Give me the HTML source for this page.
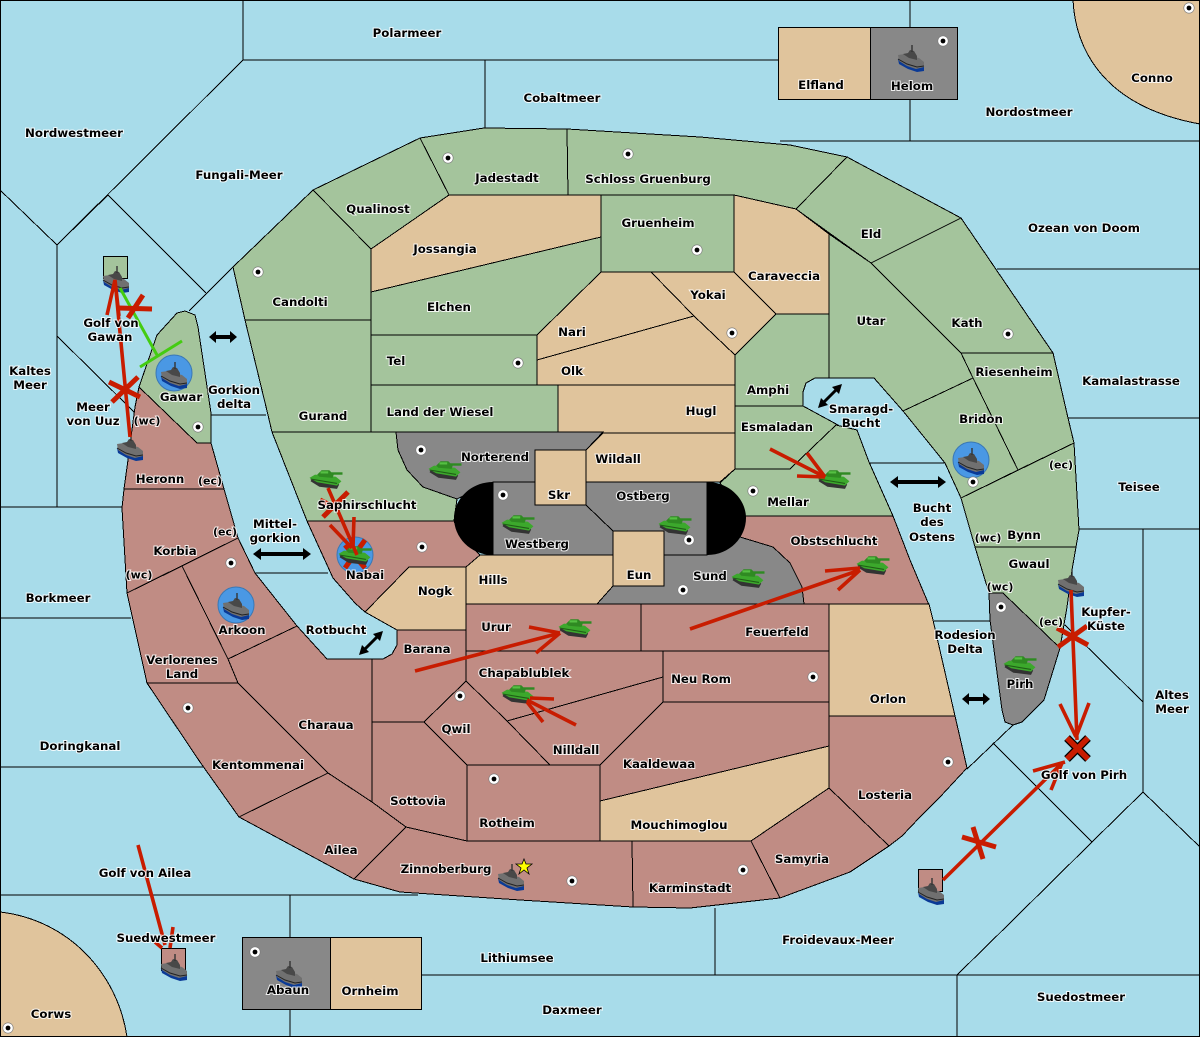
<!DOCTYPE html>
<html><head><meta charset="utf-8"><style>
html,body{margin:0;padding:0;background:#a8dcea}
svg{display:block}
.l polygon,.l path.r{stroke:#000;stroke-width:1;shape-rendering:crispEdges}
.g{fill:#a4c49c}.t{fill:#e0c49c}.p{fill:#c08c84}.k{fill:#888}
.s{stroke:#000;stroke-width:1;fill:none;shape-rendering:crispEdges}
text{font-family:"DejaVu Sans","Liberation Sans",sans-serif;font-weight:bold;font-size:11.8px;text-anchor:middle;dominant-baseline:central;fill:#000;stroke:#fff;stroke-opacity:.85;stroke-width:2px;paint-order:stroke}
text.sm{font-size:11px}
.o{stroke:#c81c00;stroke-width:3.6;fill:none}
.x{stroke:#c81c00;stroke-width:5;fill:none}
.gr{stroke:#44cc11;stroke-width:3;fill:none}
</style></head><body>
<svg xmlns="http://www.w3.org/2000/svg" width="1200" height="1037" viewBox="0 0 1200 1037">
<defs>
<g id="ship"><path d="M-13,1 L-12,6 L-3,11 L6,14 L13,13 L13,8 Z" fill="#0a3a96"/><path d="M-13,-3 L-6,-4 L0,-2 L8,0 L13,4 L13,9 L5,11 L-4,8 L-12,3 Z" fill="#707070"/><path d="M-8,-4 L-3,-5 L-1,-8 L3,-7 L6,-2 L6,2 L-2,0 Z" fill="#484848"/><path d="M-13,1 L-4,6 L6,9 L13,8" stroke="#222" fill="none"/><path d="M1,-13 V-6" stroke="#333" stroke-width="1.4"/></g>
<g id="tank" transform="scale(1.1)"><path d="M-14,2 L-6,7 L10,9 L12,5 L8,2 L-12,-2 Z" fill="#333"/><path d="M-15,-1 L-10,-4 L9,-2 L14,2 L10,6 L-8,3 Z" fill="#3ca82c"/><path d="M-8,-4 L-4,-8 L3,-8 L7,-4 L6,-1 L-6,-2 Z" fill="#2f8a22"/><path d="M-5,-7 L2,-7 L2,-5 L-5,-5 Z" fill="#55c043"/><path d="M5,-5 H15" stroke="#2f8a22" stroke-width="2.2"/><path d="M-14,0 L10,4" stroke="#1f5f16" fill="none"/></g>
<g id="dot"><circle r="5.2" fill="#fff" stroke="#777" stroke-width=".6"/><circle r="2.4" fill="#000"/></g>
</defs>
<rect width="1200" height="1037" fill="#a8dcea"/>

<g class="s">
<path d="M243,0 V60 L57,245 L0,190"/>
<path d="M243,60 H778"/>
<path d="M485,60 V128"/>
<path d="M910,0 V27 M910,99 V141"/>
<path d="M780,141 H1200"/>
<path d="M997,269 H1200"/>
<path d="M1068,418 H1200"/>
<path d="M1079,529 H1200"/>
<path d="M1143,529 V792 L1133,802"/>
<path d="M1065,625 L1143,702"/>
<path d="M1143,792 L1200,847"/>
<path d="M993,743 L1092,842 L1143,792"/>
<path d="M1092,842 L1013,920 L957,975 V1037"/>
<path d="M957,975 H1200"/>
<path d="M1013,725 L967,769"/>
<path d="M934,621 H990"/>
<path d="M870,463 H945"/>
<path d="M715,908 V975"/>
<path d="M422,975 H957"/>
<path d="M290,895 V937 M290,1009 V1037"/>
<path d="M0,895 H418"/>
<path d="M0,767 H205"/>
<path d="M0,618 H131"/>
<path d="M0,507 H122"/>
<path d="M57,245 V507"/>
<path d="M57,245 L108,195 L206,293"/>
<path d="M57,336 L135,413"/>
<path d="M189,311 L233,267"/>
<path d="M211,415 H266"/>
<path d="M255,573 H328"/>
</g>

<g class="l">
<path class="r t" d="M1073,0 C1075,40 1095,105 1200,124 V0 Z"/>
<path class="r t" d="M0,912 C70,920 118,975 127,1037 H0 Z"/>

<polygon class="g" points="233,267 313,190 371,249 371,320 245,320"/>
<polygon class="g" points="313,190 420,138 449,195 371,249"/>
<polygon class="g" points="420,138 484,128 567,129 568,195 449,195"/>
<polygon class="g" points="567,129 700,137 790,145 847,157 796,209 734,195 568,195"/>
<polygon class="g" points="847,157 961,218 871,263 796,209"/>
<polygon class="g" points="871,263 961,218 1053,353 961,353 916,308"/>
<polygon class="g" points="829,234 871,263 916,308 961,353 973,378 903,411 874,378 829,378"/>
<polygon class="g" points="961,353 1053,353 1068,418 1074,443 1018,470 973,378"/>
<polygon class="g" points="973,378 1018,470 961,498 945,463 903,411"/>
<polygon class="g" points="961,498 1074,443 1079,530 1076,547 975,547"/>
<polygon class="g" points="975,547 1076,547 1072,570 1067,607 1060,648 1003,593 989,593"/>
<polygon class="k" points="989,593 1003,593 1060,648 1044,700 1022,722 1013,725 1005,722 1002,710 990,620"/>
<polygon class="t" points="734,195 796,209 829,234 829,314 776,314 734,272"/>
<polygon class="g" points="735,355 776,314 829,314 829,378 815,378 806,383 803,392 803,406 735,406"/>
<polygon class="g" points="735,406 803,406 838,425 790,469 735,469"/>
<polygon class="g" points="735,469 790,469 836,425 857,430 869,462 893,516 745,516 720,483"/>

<polygon class="g" points="245,320 371,320 371,432 272,432 268,415"/>
<polygon class="g" points="371,385 558,385 558,432 371,432"/>
<polygon class="g" points="371,335 537,335 537,385 371,385"/>
<polygon class="g" points="371,292 601,237 601,272 537,335 371,335"/>
<polygon class="t" points="371,249 449,195 601,195 601,237 371,292"/>
<polygon class="g" points="601,195 734,195 734,272 601,272"/>
<polygon class="t" points="537,335 601,272 651,272 694,316 537,360"/>
<polygon class="t" points="651,272 734,272 776,314 735,355 694,316"/>
<polygon class="t" points="537,360 694,316 735,355 735,385 537,385"/>
<polygon class="t" points="558,385 735,385 735,433 558,433"/>
<polygon class="t" points="603,433 735,433 735,469 720,482 586,482 586,450"/>
<polygon class="k" points="396,432 603,432 586,450 535,450 535,482 493,482 457,499 423,487 407,470 398,450"/>
<polygon class="g" points="272,432 396,432 398,450 407,470 423,487 457,499 454,521 307,521"/>

<polygon class="p" points="745,516 893,516 910,560 929,605 804,605 802,587 790,563 773,547 740,537"/>
<polygon class="p" points="307,521 454,521 460,536 480,555 466,567 409,567 365,612 355,603 333,578"/>
<polygon class="t" points="409,567 466,567 466,630 397,630 365,612"/>
<polygon class="t" points="480,555 613,555 613,586 597,604 466,604 466,567"/>
<polygon class="k" points="613,586 664,586 664,555 707,555 740,537 773,547 790,563 802,587 804,604 597,604"/>
<polygon class="k" points="493,482 535,482 535,505 586,505 613,531 613,555 493,555"/>
<polygon class="k" points="586,482 707,482 707,555 664,555 664,531 613,531 586,505"/>
<polygon class="t" points="535,450 586,450 586,505 535,505"/>
<polygon class="t" points="613,531 664,531 664,586 613,586"/>

<polygon class="p" points="466,604 641,604 641,651 466,651"/>
<polygon class="p" points="641,604 829,604 829,651 641,651"/>
<polygon class="t" points="829,604 929,604 933,620 955,716 829,716"/>
<polygon class="p" points="663,651 829,651 829,702 663,702"/>
<polygon class="p" points="466,651 663,651 663,677 507,721 466,681"/>
<polygon class="p" points="507,721 663,677 663,702 600,765 550,765"/>
<polygon class="p" points="466,681 507,721 550,765 467,765 424,722"/>
<polygon class="p" points="397,630 466,630 466,681 424,722 372,722 372,659 383,659 392,654 397,645"/>
<polygon class="p" points="467,765 600,765 600,841 467,841"/>
<polygon class="p" points="372,722 424,722 467,765 467,841 406,827 372,802"/>
<polygon class="p" points="663,702 829,702 829,746 600,801 600,765"/>
<polygon class="t" points="600,801 829,746 829,788 751,841 600,841"/>
<polygon class="p" points="829,716 955,716 967,768 953,783 940,797 920,817 902,836 889,846 829,788"/>
<polygon class="p" points="751,841 829,788 889,846 850,872 780,898"/>
<polygon class="p" points="632,841 751,841 780,898 690,908 633,907"/>
<polygon class="p" points="406,827 467,841 632,841 633,907 520,900 400,892 354,879"/>
<polygon class="p" points="328,773 372,802 406,827 354,879 239,817"/>
<polygon class="p" points="228,659 297,626 327,659 372,659 372,802 328,773 238,683"/>
<polygon class="p" points="147,683 238,683 328,773 239,817 200,762"/>
<polygon class="p" points="127,593 182,566 228,659 238,683 147,683"/>
<polygon class="p" points="182,566 238,538 255,573 297,626 228,659"/>
<polygon class="p" points="124,489 224,489 238,538 127,593 122,508"/>
<polygon class="p" points="139,387 197,443 211,443 224,489 124,489 128,460 135,407"/>
<polygon class="g" points="139,387 157,335 177,313 185,311 195,315 198,327 211,413 211,443 197,443"/>
</g>

<path d="M493,482 C470,482 454,500 454,518 C454,537 470,555 493,555 Z" fill="#000"/>
<path d="M707,482 C730,482 746,500 746,518 C746,537 730,555 707,555 Z" fill="#000"/>

<g stroke="#000" stroke-width="1.3" shape-rendering="crispEdges">
<rect x="778.5" y="27.5" width="92" height="72" class="t"/>
<rect x="870.5" y="27.5" width="87" height="72" class="k"/>
<rect x="242.5" y="937.5" width="88" height="72" class="k"/>
<rect x="330.5" y="937.5" width="91" height="72" class="t"/>
<rect x="103.5" y="256.5" width="24" height="22" class="g"/>
<rect x="161.5" y="948.5" width="24" height="22" class="p"/>
<rect x="918.5" y="869.5" width="24" height="22" class="p"/>
</g>

<g fill="#4a98e4" stroke="#3a78b4"><circle cx="174" cy="373" r="18"/><circle cx="971" cy="460" r="18"/><circle cx="236" cy="605" r="18"/><circle cx="355" cy="555" r="18"/></g>
<path class="x" d="M365,540 L345,568 M345,545 L365,568" stroke-width="4"/>

<g>
<use href="#dot" x="448" y="158"/><use href="#dot" x="628" y="154"/><use href="#dot" x="943" y="41"/><use href="#dot" x="1189" y="8"/><use href="#dot" x="697" y="250"/><use href="#dot" x="258" y="272"/><use href="#dot" x="518" y="363"/><use href="#dot" x="732" y="333"/><use href="#dot" x="1008" y="334"/><use href="#dot" x="198" y="427"/><use href="#dot" x="421" y="450"/><use href="#dot" x="503" y="495"/><use href="#dot" x="753" y="491"/><use href="#dot" x="973" y="482"/><use href="#dot" x="422" y="547"/><use href="#dot" x="689" y="540"/><use href="#dot" x="231" y="563"/><use href="#dot" x="683" y="590"/><use href="#dot" x="1001" y="607"/><use href="#dot" x="460" y="696"/><use href="#dot" x="813" y="677"/><use href="#dot" x="188" y="708"/><use href="#dot" x="948" y="762"/><use href="#dot" x="494" y="779"/><use href="#dot" x="572" y="881"/><use href="#dot" x="743" y="870"/><use href="#dot" x="255" y="952"/><use href="#dot" x="8" y="1028"/>
</g>

<g>
<use href="#ship" x="116" y="279"/><use href="#ship" x="174" y="375"/><use href="#ship" x="130" y="447"/><use href="#ship" x="971" y="461"/><use href="#ship" x="1071" y="583"/><use href="#ship" x="236" y="606"/><use href="#ship" x="911" y="58"/><use href="#ship" x="289" y="974"/><use href="#ship" x="511" y="877"/><use href="#ship" x="174" y="967"/><use href="#ship" x="931" y="891"/>
<use href="#tank" x="326" y="479"/><use href="#tank" x="445" y="470"/><use href="#tank" x="518" y="524"/><use href="#tank" x="675" y="525"/><use href="#tank" x="834" y="479"/><use href="#tank" x="748" y="578"/><use href="#tank" x="873" y="565"/><use href="#tank" x="575" y="628"/><use href="#tank" x="518" y="694"/><use href="#tank" x="355" y="555"/><use href="#tank" x="1020" y="665"/>
</g>
<polygon points="524,859 526,864 532,864 527,868 529,874 524,870 519,874 521,868 516,864 522,864" fill="#ff0" stroke="#000" stroke-width=".8"/>

<g fill="#000">
<polygon points="209,337 216,331 216,335 230,335 230,331 237,337 230,343 230,339 216,339 216,343"/>
<polygon points="253,554 261,548 261,552 303,552 303,548 311,554 303,560 303,556 261,556 261,560"/>
<polygon points="890,482 898,476 898,480 938,480 938,476 946,482 938,488 938,484 898,484 898,488"/>
<polygon points="962,699 969,693 969,697 983,697 983,693 990,699 983,705 983,701 969,701 969,705"/>
<path d="M822,404 L838,388" stroke="#000" stroke-width="3"/>
<polygon points="842,384 832,387 839,394"/><polygon points="818,408 828,405 821,398"/>
<path d="M363,651 L379,635" stroke="#000" stroke-width="3"/>
<polygon points="383,631 373,634 380,641"/><polygon points="359,655 369,652 362,645"/>
</g>

<g class="gr"><path d="M120,288 L157,355"/><path d="M140,367 L182,341"/></g>
<g class="o">
<path d="M130,437 L115,280 M107,315 L115,280 L119,316"/>
<path d="M328,488 L357,555 M330,525 L352,548 M354,517 L353,547"/>
<path d="M770,449 L825,477 M807,453 L825,477 M797,476 L825,477"/>
<path d="M690,629 L860,570 M825,571 L860,568 M838,590 L860,570"/>
<path d="M415,671 L560,633 M529,627 L560,633 M536,653 L560,633"/>
<path d="M576,725 L527,700 M554,699 L530,698 M543,722 L527,702"/>
<path d="M1071,590 L1077,740 M1060,704 L1076,737 M1089,703 L1076,737"/>
<path d="M943,880 L1060,765 M1033,771 L1065,762 M1051,790 L1062,763"/>
<path d="M138,845 L165,945 M155,942 L162,948 M173,927 L170,948"/>
</g>
<g class="x">
<path d="M109,382 L140,397 M138,377 L112,402"/>
<path d="M118,308 L152,309 M143,295 L128,318"/>
<path d="M348,492 L323,517 M320,500 L340,510"/>
<path d="M1057,628 L1088,645 M1087,626 L1058,647"/>
<path d="M962,837 L996,847 M973,827 L983,859"/>
</g>
<path d="M1067,738 L1088,759 M1088,738 L1067,759" stroke="#000" stroke-width="8" fill="none"/>
<path d="M1067,738 L1088,759 M1088,738 L1067,759" stroke="#c81c00" stroke-width="5.5" fill="none"/>

<g transform="translate(0,1)">
<text x="407" y="32">Polarmeer</text><text x="562" y="97">Cobaltmeer</text><text x="821" y="84">Elfland</text><text x="912" y="85">Helom</text><text x="1152" y="77">Conno</text><text x="1029" y="111">Nordostmeer</text><text x="74" y="132">Nordwestmeer</text><text x="239" y="174">Fungali-Meer</text><text x="507" y="177">Jadestadt</text><text x="648" y="178">Schloss Gruenburg</text><text x="378" y="208">Qualinost</text><text x="658" y="222">Gruenheim</text><text x="871" y="233">Eld</text><text x="1084" y="227">Ozean von Doom</text><text x="445" y="248">Jossangia</text><text x="784" y="275">Caraveccia</text><text x="708" y="294">Yokai</text><text x="300" y="301">Candolti</text><text x="449" y="306">Elchen</text><text x="111" y="322">Golf von</text><text x="110" y="336">Gawan</text><text x="871" y="320">Utar</text><text x="967" y="322">Kath</text><text x="572" y="331">Nari</text><text x="396" y="360">Tel</text><text x="572" y="370">Olk</text><text x="30" y="370">Kaltes</text><text x="30" y="384">Meer</text><text x="1014" y="371">Riesenheim</text><text x="1131" y="380">Kamalastrasse</text><text x="768" y="389">Amphi</text><text x="234" y="389">Gorkion</text><text x="234" y="403">delta</text><text x="181" y="396">Gawar</text><text x="861" y="408">Smaragd-</text><text x="861" y="422">Bucht</text><text x="93" y="406">Meer</text><text x="93" y="420">von Uuz</text><text class="sm" x="147" y="420">(wc)</text><text x="440" y="411">Land der Wiesel</text><text x="701" y="410">Hugl</text><text x="323" y="415">Gurand</text><text x="981" y="418">Bridon</text><text x="777" y="426">Esmaladan</text><text x="495" y="456">Norterend</text><text x="618" y="458">Wildall</text><text class="sm" x="1061" y="464">(ec)</text><text x="1139" y="486">Teisee</text><text x="160" y="478">Heronn</text><text class="sm" x="210" y="480">(ec)</text><text x="559" y="494">Skr</text><text x="643" y="495">Ostberg</text><text x="788" y="501">Mellar</text><text x="367" y="504">Saphirschlucht</text><text x="932" y="507">Bucht</text><text x="932" y="521">des</text><text x="932" y="536">Ostens</text><text class="sm" x="988" y="537">(wc)</text><text x="1024" y="534">Bynn</text><text class="sm" x="225" y="531">(ec)</text><text x="275" y="523">Mittel-</text><text x="275" y="537">gorkion</text><text x="537" y="543">Westberg</text><text x="834" y="540">Obstschlucht</text><text x="175" y="550">Korbia</text><text x="1029" y="563">Gwaul</text><text x="365" y="574">Nabai</text><text x="639" y="574">Eun</text><text class="sm" x="139" y="574">(wc)</text><text x="710" y="575">Sund</text><text x="493" y="579">Hills</text><text class="sm" x="1000" y="586">(wc)</text><text x="435" y="590">Nogk</text><text x="58" y="597">Borkmeer</text><text x="1106" y="611">Kupfer-</text><text x="1106" y="625">Küste</text><text class="sm" x="1051" y="621">(ec)</text><text x="496" y="626">Urur</text><text x="777" y="631">Feuerfeld</text><text x="242" y="629">Arkoon</text><text x="336" y="629">Rotbucht</text><text x="965" y="634">Rodesion</text><text x="965" y="648">Delta</text><text x="427" y="648">Barana</text><text x="701" y="678">Neu Rom</text><text x="524" y="672">Chapablublek</text><text x="182" y="659">Verlorenes</text><text x="182" y="673">Land</text><text x="1020" y="683">Pirh</text><text x="888" y="698">Orlon</text><text x="1172" y="694">Altes</text><text x="1172" y="708">Meer</text><text x="326" y="724">Charaua</text><text x="456" y="728">Qwil</text><text x="80" y="745">Doringkanal</text><text x="576" y="749">Nilldall</text><text x="659" y="763">Kaaldewaa</text><text x="258" y="764">Kentommenai</text><text x="1084" y="774">Golf von Pirh</text><text x="885" y="794">Losteria</text><text x="418" y="800">Sottovia</text><text x="507" y="822">Rotheim</text><text x="679" y="824">Mouchimoglou</text><text x="341" y="849">Ailea</text><text x="802" y="858">Samyria</text><text x="446" y="868">Zinnoberburg</text><text x="145" y="872">Golf von Ailea</text><text x="690" y="887">Karminstadt</text><text x="838" y="939">Froidevaux-Meer</text><text x="166" y="937">Suedwestmeer</text><text x="517" y="957">Lithiumsee</text><text x="288" y="989">Abaun</text><text x="370" y="990">Ornheim</text><text x="1081" y="996">Suedostmeer</text><text x="572" y="1009">Daxmeer</text><text x="51" y="1013">Corws</text>
</g>
<rect x=".5" y=".5" width="1199" height="1036" fill="none" stroke="#000"/>
</svg>
</body></html>
